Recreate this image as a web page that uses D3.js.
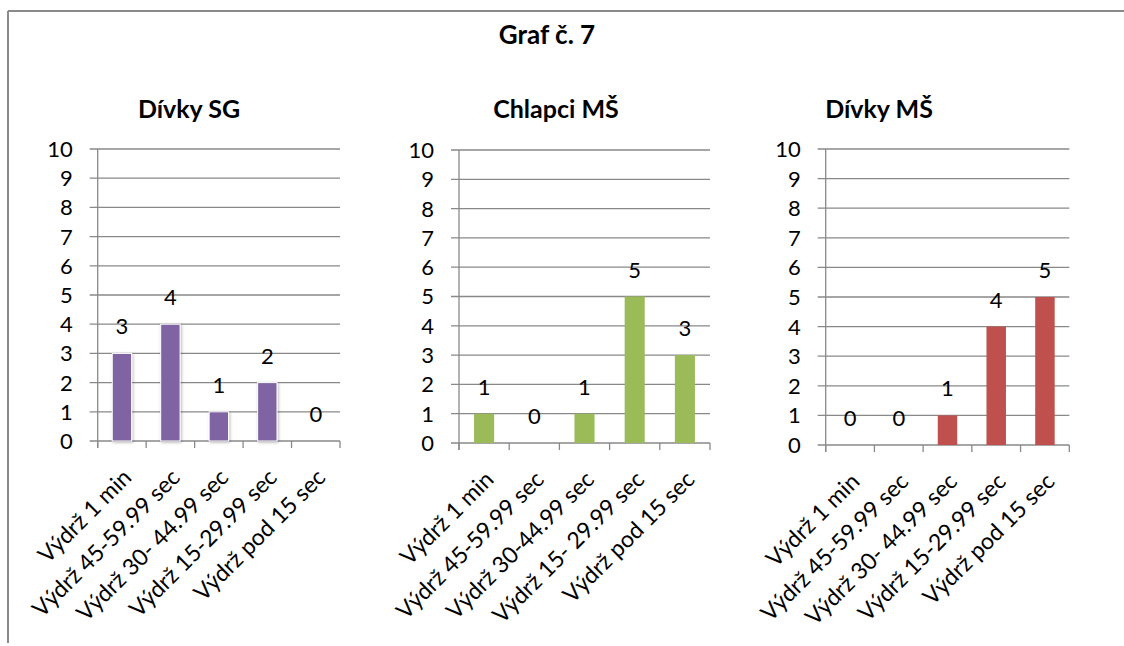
<!DOCTYPE html>
<html>
<head>
<meta charset="utf-8">
<script src="https://cdn.jsdelivr.net/npm/d3@7"></script>
<style>
  html, body { margin: 0; padding: 0; background: #fff; }
  svg { display: block; font-family: Lato, "Open Sans", sans-serif; }
</style>
</head>
<body>
<svg id="chart" width="1124" height="646"></svg>
<script>
// Chart data
const mainTitle = "Graf č. 7";
const panelTitles = ["Dívky SG", "Chlapci MŠ", "Dívky MŠ"];
const categoriesSG = ["Výdrž 1 min", "Výdrž 45-59.99 sec", "Výdrž 30- 44.99 sec", "Výdrž 15-29.99 sec", "Výdrž pod 15 sec"];
const categoriesChlapciMS = ["Výdrž 1 min", "Výdrž 45-59.99 sec", "Výdrž 30-44.99 sec", "Výdrž 15- 29.99 sec", "Výdrž pod 15 sec"];
const categoriesDivkyMS = ["Výdrž 1 min", "Výdrž 45-59.99 sec", "Výdrž 30- 44.99 sec", "Výdrž 15-29.99 sec", "Výdrž pod 15 sec"];
const valuesDivkySG = [3, 4, 1, 2, 0];
const valuesChlapciMS = [1, 0, 1, 5, 3];
const valuesDivkyMS = [0, 0, 1, 4, 5];
const yTicks = [0, 1, 2, 3, 4, 5, 6, 7, 8, 9, 10];

const svg = d3.select("#chart");
const gridColor = "#898989";

// Frame lines (top and left edge)
svg.append("line").attr("x1", 8).attr("y1", 11).attr("x2", 1124).attr("y2", 11)
  .attr("stroke", "#8a8a8a").attr("stroke-width", 2);
svg.append("line").attr("x1", 8).attr("y1", 11).attr("x2", 8).attr("y2", 643)
  .attr("stroke", "#8a8a8a").attr("stroke-width", 2);

// Main title
svg.append("text").attr("x", 547).attr("y", 44).attr("text-anchor", "middle")
  .attr("font-size", 26).attr("font-weight", "bold").attr("fill", "#000").text(mainTitle);

// Soft shadow for the first panel's bars
const defs = svg.append("defs");
const f = defs.append("filter").attr("id", "barShadow")
  .attr("x", "-30%").attr("y", "-10%").attr("width", "160%").attr("height", "130%");
f.append("feDropShadow").attr("dx", 1).attr("dy", 1).attr("stdDeviation", 1.6)
  .attr("flood-color", "#000").attr("flood-opacity", 0.3);

const panels = [
  { title: panelTitles[0], cats: categoriesSG, vals: valuesDivkySG, color: "#8064A2",
    x0: 97.7, x1: 340, yTop: 149, yBot: 441, titleX: 189, shadow: true },
  { title: panelTitles[1], cats: categoriesChlapciMS, vals: valuesChlapciMS, color: "#9BBB59",
    x0: 459, x1: 710, yTop: 150, yBot: 443, titleX: 556, shadow: false },
  { title: panelTitles[2], cats: categoriesDivkyMS, vals: valuesDivkyMS, color: "#C0504D",
    x0: 825.7, x1: 1069.3, yTop: 149, yBot: 445, titleX: 879, shadow: false }
];

panels.forEach(p => {
  const g = svg.append("g");
  const x = d3.scaleBand().domain(p.cats).range([p.x0, p.x1]).paddingInner(0.6).paddingOuter(0.3);
  const xStep = d3.scaleBand().domain(p.cats).range([p.x0, p.x1]);
  const y = d3.scaleLinear().domain([0, 10]).range([p.yBot, p.yTop]);

  // Panel title
  g.append("text").attr("x", p.titleX).attr("y", 118).attr("text-anchor", "middle")
    .attr("font-size", 25).attr("font-weight", "bold").attr("fill", "#000").text(p.title);

  // Horizontal gridlines with left tick marks
  g.selectAll(".grid").data(yTicks).join("line")
    .attr("x1", p.x0 - 8).attr("x2", p.x1)
    .attr("y1", d => y(d)).attr("y2", d => y(d))
    .attr("stroke", gridColor).attr("stroke-width", 1.3);

  // Y axis line
  g.append("line").attr("x1", p.x0).attr("x2", p.x0).attr("y1", y(10)).attr("y2", y(0) + 7)
    .attr("stroke", gridColor).attr("stroke-width", 1.3);

  // Y tick labels
  g.selectAll(".ylab").data(yTicks).join("text")
    .attr("x", p.x0 - 25).attr("y", d => y(d)).attr("dy", "0.36em")
    .attr("text-anchor", "end").attr("font-size", 22).attr("fill", "#000")
    .text(d => d);

  // Category boundary ticks
  const bounds = p.cats.map(c => xStep(c)).concat([p.x1]);
  g.selectAll(".xt").data(bounds).join("line")
    .attr("x1", d => d).attr("x2", d => d).attr("y1", y(0)).attr("y2", y(0) + 7)
    .attr("stroke", gridColor).attr("stroke-width", 1.3);

  // Bars
  const data = p.cats.map((c, i) => ({ c, v: p.vals[i] }));
  const bars = g.selectAll(".bar").data(data.filter(d => d.v > 0)).join("rect")
    .attr("x", d => x(d.c)).attr("width", x.bandwidth())
    .attr("y", d => y(d.v)).attr("height", d => y(0) - y(d.v))
    .attr("fill", p.color);
  if (p.shadow) bars.attr("stroke", "#fff").attr("stroke-width", 1).attr("filter", "url(#barShadow)");

  // Value labels
  g.selectAll(".val").data(data).join("text")
    .attr("x", d => x(d.c) + x.bandwidth() / 2).attr("y", d => y(d.v) - 19)
    .attr("text-anchor", "middle").attr("font-size", 22).attr("fill", "#000")
    .text(d => d.v);

  // Rotated category labels
  g.selectAll(".xlab").data(p.cats).join("text")
    .attr("transform", d => `translate(${x(d) + x.bandwidth() / 2 + 11},${y(0) + 38}) rotate(-45)`)
    .attr("text-anchor", "end").attr("font-size", 23).attr("fill", "#000")
    .text(d => d);
});
</script>
</body>
</html>
